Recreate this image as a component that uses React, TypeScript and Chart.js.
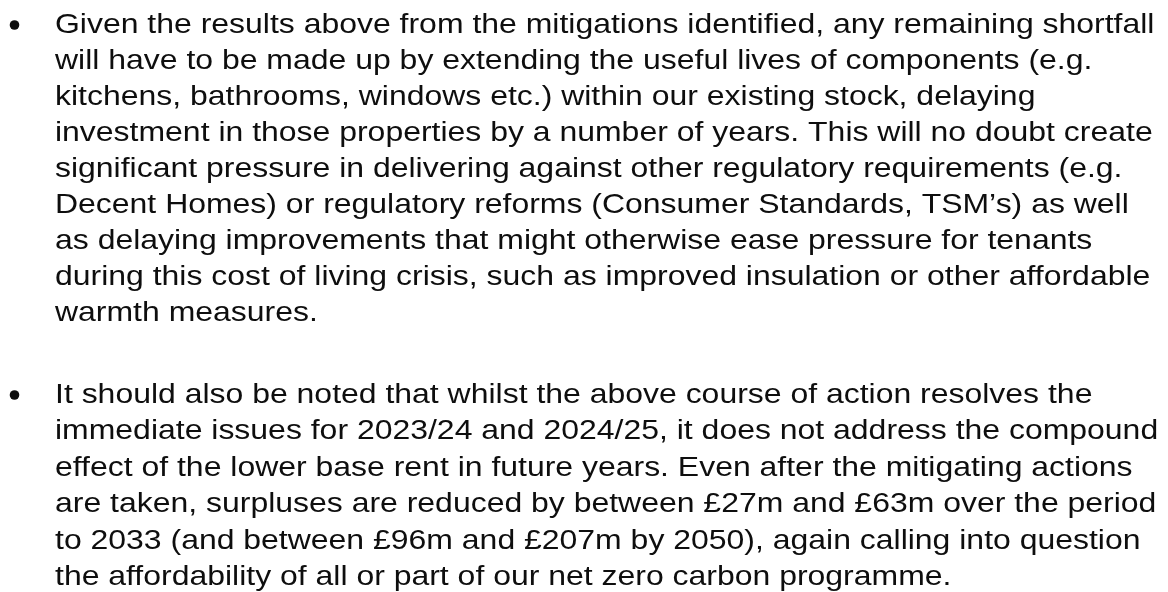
import { useEffect, useRef } from "react";
import { Chart, registerables } from "chart.js";

Chart.register(...registerables);

const paragraph1Lines: string[] = [
  "Given the results above from the mitigations identified, any remaining shortfall",
  "will have to be made up by extending the useful lives of components (e.g.",
  "kitchens, bathrooms, windows etc.) within our existing stock, delaying",
  "investment in those properties by a number of years. This will no doubt create",
  "significant pressure in delivering against other regulatory requirements (e.g.",
  "Decent Homes) or regulatory reforms (Consumer Standards, TSM’s) as well",
  "as delaying improvements that might otherwise ease pressure for tenants",
  "during this cost of living crisis, such as improved insulation or other affordable",
  "warmth measures.",
];

const paragraph2Lines: string[] = [
  "It should also be noted that whilst the above course of action resolves the",
  "immediate issues for 2023/24 and 2024/25, it does not address the compound",
  "effect of the lower base rent in future years. Even after the mitigating actions",
  "are taken, surpluses are reduced by between £27m and £63m over the period",
  "to 2033 (and between £96m and £207m by 2050), again calling into question",
  "the affordability of all or part of our net zero carbon programme.",
];

const paragraphs: string[][] = [paragraph1Lines, paragraph2Lines];

const W = 1168;
const H = 592;

const textPlugin = {
  id: "bulletText",
  beforeDraw(chart: any) {
    const ctx = chart.ctx as CanvasRenderingContext2D;
    ctx.save();
    ctx.fillStyle = "#ffffff";
    ctx.fillRect(0, 0, chart.width, chart.height);
    ctx.restore();
  },
  afterDraw(chart: any) {
    const ctx = chart.ctx as CanvasRenderingContext2D;
    const firstBaselines = [33, 403];
    const lineHeights = [36, 36.4];
    const textX = 55;
    const stretchX = 1.162;
    ctx.save();
    ctx.fillStyle = "#0e0e0e";
    ctx.textBaseline = "alphabetic";
    ctx.textAlign = "left";
    paragraphs.forEach((lines, p) => {
      const b0 = firstBaselines[p];
      ctx.beginPath();
      ctx.arc(14.5, b0 - 8, 4.8, 0, Math.PI * 2);
      ctx.fill();
      ctx.save();
      ctx.translate(textX, 0);
      ctx.scale(stretchX, 1);
      ctx.font = '27.5px "Liberation Sans", Arial, sans-serif';
      lines.forEach((line, i) => {
        ctx.fillText(line, 0, b0 + i * lineHeights[p]);
      });
      ctx.restore();
    });
    ctx.restore();
  },
};

export default function App() {
  const ref = useRef<HTMLCanvasElement | null>(null);
  useEffect(() => {
    if (!ref.current) return;
    const chart = new Chart(ref.current, {
      type: "scatter",
      data: { datasets: [] },
      options: {
        animation: false,
        responsive: false,
        maintainAspectRatio: false,
        events: [],
        layout: { padding: 0 },
        plugins: { legend: { display: false }, tooltip: { enabled: false }, title: { display: false } },
        scales: { x: { display: false }, y: { display: false } },
      },
      plugins: [textPlugin],
    } as any);
    return () => chart.destroy();
  }, []);
  return (
    <div style={{ position: "fixed", left: 0, top: 0, width: W, height: H, background: "#fff" }}>
      <canvas ref={ref} width={W} height={H} style={{ width: W, height: H, display: "block" }} />
    </div>
  );
}
